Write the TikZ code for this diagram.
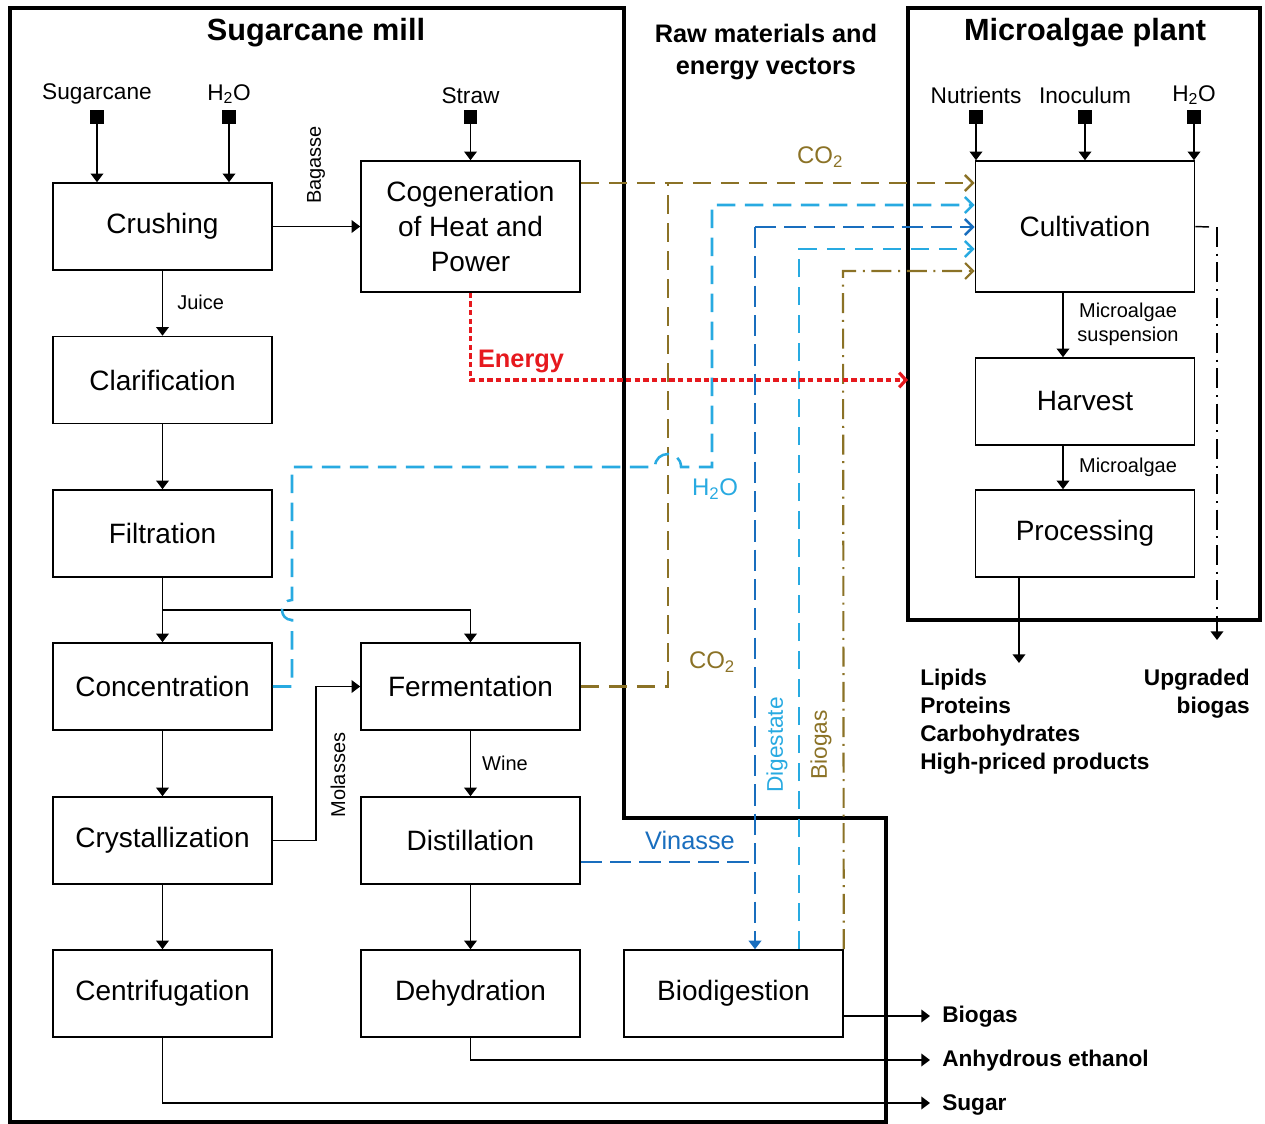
\documentclass[tikz,border=0pt]{standalone}
\usepackage{fontspec}
\setmainfont{Liberation Sans}
\usetikzlibrary{arrows.meta,calc}

\definecolor{cgold}{RGB}{139,114,38}
\definecolor{cwater}{RGB}{40,170,225}
\definecolor{cvin}{RGB}{25,110,190}
\definecolor{cen}{RGB}{230,25,30}

\tikzset{
  frame/.style={line width=2.4pt},
  box/.style={draw, line width=1.15pt, minimum width=164.25pt, minimum height=65.25pt,
              inner sep=0pt, align=center, font=\fontsize{21}{26}\selectfont},
  tallbox/.style={box, minimum height=98.25pt},
  sq/.style={fill=black, minimum size=10pt, inner sep=0pt},
  inlbl/.style={font=\fontsize{17}{20}\selectfont, inner sep=0pt},
  lbl/.style={font=\fontsize{15}{18}\selectfont, inner sep=0pt},
  title/.style={font=\bfseries\fontsize{23}{27}\selectfont, inner sep=0pt},
  subtitle/.style={font=\bfseries\fontsize{19}{23.5}\selectfont, align=center, inner sep=0pt},
  outlbl/.style={font=\bfseries\fontsize{17}{21}\selectfont, inner sep=0pt},
  flow/.style={line width=1.1pt},
  arr/.style={flow, -{Triangle[length=6.5pt,width=9.5pt]}},
  barb/.style={-{Straight Barb[length=6pt,width=12pt]}},
  gasline/.style={draw=cgold, line width=1.9pt, dash pattern=on 14pt off 7pt},
  waterline/.style={draw=cwater, line width=1.9pt, dash pattern=on 14pt off 7pt},
  vinline/.style={draw=cvin, line width=1.9pt, dash pattern=on 16pt off 6pt},
  biogasline/.style={draw=cgold, line width=1.6pt, dash pattern=on 15pt off 5pt on 1.5pt off 5pt},
  upgline/.style={draw=black, line width=1.2pt, dash pattern=on 15pt off 5pt on 1.5pt off 5pt},
  energyline/.style={draw=cen, line width=2.4pt, dash pattern=on 4pt off 2.5pt},
}

\begin{document}
\begin{tikzpicture}[x=0.75pt,y=-0.75pt]
\useasboundingbox (0,0) rectangle (1265,1124);

% plant boundaries
\draw[frame] (10,8) -- (624,8) -- (624,818) -- (886,818) -- (886,1122) -- (10,1122) -- cycle;
\draw[frame] (908,8) rectangle (1260,620);

% titles
\node[title] (tmill) at (316,33) {Sugarcane mill};
\node[title] (talgae) at (1085,33) {Microalgae plant};
\node[subtitle] (traw) at (766,52) {Raw materials and\\energy vectors};

% sugarcane mill units
\node[box] (crush) at (162.5,226.5) {Crushing};
\node[tallbox] (cogen) at (470.5,226.5) {Cogeneration\\of Heat and\\Power};
\node[box] (clar) at (162.5,380) {Clarification};
\node[box] (filt) at (162.5,533.5) {Filtration};
\node[box] (conc) at (162.5,686.5) {Concentration};
\node[box] (ferm) at (470.5,686.5) {Fermentation};
\node[box] (cryst) at (162.5,840.5) {Crystallization};
\node[box] (dist) at (470.5,840.5) {Distillation};
\node[box] (centr) at (162.5,993.5) {Centrifugation};
\node[box] (dehyd) at (470.5,993.5) {Dehydration};
\node[box] (biod) at (733.5,993.5) {Biodigestion};

% microalgae plant units
\node[tallbox] (cult) at (1085,226.5) {Cultivation};
\node[box] (harv) at (1085,401.5) {Harvest};
\node[box] (proc) at (1085,533.5) {Processing};

% raw material inputs
\node[sq] (sqcane) at (97,117) {};
\node[sq] (sqwat) at (229,117) {};
\node[sq] (sqstraw) at (470.5,117) {};
\node[sq] (sqnut) at (976,117) {};
\node[sq] (sqino) at (1085,117) {};
\node[sq] (sqwat2) at (1194,117) {};
\node[inlbl] (tcane) at (97,94) {Sugarcane};
\node[inlbl] (twat) at (229,94) {H\textsubscript{2}O};
\node[inlbl] (tstraw) at (470.5,96) {Straw};
\node[inlbl] (tnut) at (976,95) {Nutrients};
\node[inlbl] (tino) at (1085,95) {Inoculum};
\node[inlbl] (twat2) at (1194,95) {H\textsubscript{2}O};
\draw[arr] (sqcane) -- (sqcane |- crush.north);
\draw[arr] (sqwat) -- (sqwat |- crush.north);
\draw[arr] (sqstraw) -- (cogen.north);
\draw[arr] (sqnut) -- (sqnut |- cult.north);
\draw[arr] (sqino) -- (cult.north);
\draw[arr] (sqwat2) -- (sqwat2 |- cult.north);

% mill process flows
\draw[arr] (crush) -- (cogen);
\node[lbl, rotate=90] (tbag) at (316,165) {Bagasse};
\draw[arr] (crush) -- (clar);
\node[lbl, anchor=west] (tjuice) at (177,302) {Juice};
\draw[arr] (clar) -- (filt);
\coordinate (split) at (162.5,610);
\draw[flow] (filt.south) -- (split);
\draw[arr] (split) -- (conc.north);
\draw[arr] (split) -- (split -| ferm.north) -- (ferm.north);
\draw[arr] (conc) -- (cryst);
\draw[arr] (cryst) -- (centr);
\coordinate (mol) at (316,840.5);
\draw[arr] (cryst.east) -- (mol) -- (mol |- ferm.west) -- (ferm.west);
\node[lbl, rotate=90] (tmol) at (338,775) {Molasses};
\draw[arr] (ferm) -- (dist);
\node[lbl] (twine) at (505,763) {Wine};
\draw[arr] (dist) -- (dehyd);

% products leaving the mill
\coordinate (obiogas) at (930,1016);
\coordinate (oeth) at (930,1060);
\coordinate (osugar) at (930,1103);
\draw[arr] (biod.east |- obiogas) -- (obiogas);
\draw[arr] (dehyd.south) -- (dehyd.south |- oeth) -- (oeth);
\draw[arr] (centr.south) -- (centr.south |- osugar) -- (osugar);
\node[outlbl, anchor=base west] (tobiogas) at (942,1022) {Biogas};
\node[outlbl, anchor=base west] (toeth) at (942,1066) {Anhydrous ethanol};
\node[outlbl, anchor=base west] (tosugar) at (942,1110) {Sugar};

% microalgae process flows
\coordinate (malg) at (1063,0);
\draw[arr] (cult.south -| malg) -- (harv.north -| malg);
\node[lbl, align=center] (tsusp) at (1128,324) {Microalgae\\suspension};
\draw[arr] (harv.south -| malg) -- (proc.north -| malg);
\node[lbl] (tmalg) at (1128,467) {Microalgae};
\coordinate (oprod) at (1019,663);
\draw[arr] (proc.south -| oprod) -- (oprod);
\node[outlbl, anchor=base west] (tp1) at (920,685) {Lipids};
\node[outlbl, anchor=base west] (tp2) at (920,713) {Proteins};
\node[outlbl, anchor=base west] (tp3) at (920,741) {Carbohydrates};
\node[outlbl, anchor=base west] (tp4) at (920,769) {High-priced products};
\coordinate (upgtop) at (1217,227);
\coordinate (upgend) at (1217,640);
\draw[flow] (cult.east) -- (1209,227);
\draw[upgline, -{Triangle[length=6.5pt,width=9.5pt]}] (upgtop) -- (upgend);
\node[outlbl, anchor=base east] (tu1) at (1250,685) {Upgraded};
\node[outlbl, anchor=base east] (tu2) at (1250,713) {biogas};

% exchanged streams
\coordinate (yco2) at (0,183);
\coordinate (co2j) at (668,183);
\draw[gasline, barb] (cogen.east |- yco2) -- (cult.west |- yco2);
\draw[gasline] (ferm.east) -- (ferm.east -| co2j) -- (co2j);
\node[inlbl, text=cgold, font=\fontsize{18}{21}\selectfont] (tco2a) at (820,157) {CO\textsubscript{2}};
\node[inlbl, text=cgold, font=\fontsize{18}{21}\selectfont] (tco2b) at (712,662) {CO\textsubscript{2}};

\coordinate (ywat) at (0,205);
\draw[waterline, barb] (conc.east) -- (292,686.5) -- (292,620)
  .. controls (278.7,620) and (278.7,600) .. (292,600) -- (292,467) -- (655,467)
  .. controls (655,449.7) and (681,449.7) .. (681,467) -- (712,467) -- (712,205)
  -- (cult.west |- ywat);
\node[inlbl, text=cwater, font=\fontsize{18}{21}\selectfont] (th2o) at (715,489) {H\textsubscript{2}O};

\coordinate (vjoin) at (755,862);
\coordinate (vtop) at (755,227);
\draw[vinline] (dist.east |- vjoin) -- (vjoin);
\draw[vinline, -{Triangle[length=6.5pt,width=9.5pt]}] (vtop) -- (vtop |- biod.north);
\draw[vinline, barb] (vtop) -- (cult.west |- vtop);
\node[inlbl, text=cvin, font=\fontsize{19}{22}\selectfont] (tvin) at (690,840) {Vinasse};

\coordinate (dig) at (799,249);
\draw[waterline, barb] (biod.north -| dig) -- (dig) -- (cult.west |- dig);
\node[inlbl, text=cwater, rotate=90] (tdig) at (777,745) {Digestate};

\coordinate (bgs) at (843,271);
\draw[biogasline, barb] (biod.north east) -- (bgs) -- (cult.west |- bgs);
\node[inlbl, text=cgold, rotate=90] (tbgs) at (821,745) {Biogas};

\coordinate (en) at (470.5,380);
\coordinate (enend) at (908,380);
\draw[energyline, -{Straight Barb[length=5pt,width=11pt]}] (cogen.south) -- (en) -- (enend);
\node[font=\bfseries\fontsize{19}{22}\selectfont, text=cen, inner sep=0pt] (ten) at (521,361) {Energy};

\end{tikzpicture}
\end{document}
